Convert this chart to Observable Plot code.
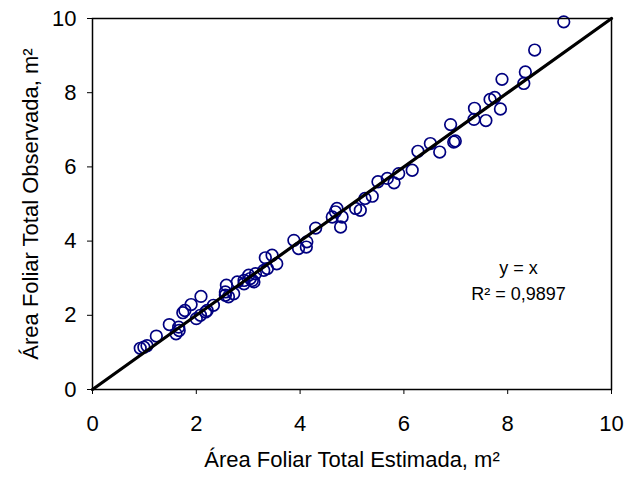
<!DOCTYPE html>
<html>
<head>
<meta charset="utf-8">
<script src="https://cdn.jsdelivr.net/npm/d3@7"></script>
<script src="https://cdn.jsdelivr.net/npm/@observablehq/plot@0.6"></script>
<style>
  html, body { margin: 0; padding: 0; background: #fff; }
</style>
</head>
<body>
<div id="chart"></div>
<script>
// Estimated leaf area (x) and observed leaf area (y), m²
const estimada = [0.92,0.99,1.05,1.23,1.48,1.61,1.67,1.66,1.74,1.78,1.90,2.09,2.00,2.08,2.18,2.21,2.33,2.56,2.58,2.56,2.72,2.62,2.79,2.92,2.92,3.01,3.04,3.08,3.11,3.14,3.30,3.37,3.33,3.46,3.55,3.88,3.97,4.13,4.12,4.30,4.62,4.68,4.71,4.81,4.78,5.07,5.16,5.25,5.39,5.50,5.68,5.81,5.90,6.16,6.27,6.51,6.69,6.96,6.99,6.90,7.35,7.36,7.58,7.66,7.75,7.86,7.89,8.31,8.34,8.52,9.08];
const observada = [1.11,1.14,1.18,1.44,1.75,1.50,1.59,1.68,2.07,2.13,2.29,2.51,1.91,2.00,2.09,2.13,2.27,2.54,2.81,2.63,2.58,2.50,2.90,2.85,2.94,3.08,2.99,2.94,2.90,3.12,3.21,3.26,3.55,3.62,3.39,4.02,3.80,3.98,3.84,4.35,4.65,4.79,4.88,4.65,4.38,4.88,4.83,5.15,5.21,5.60,5.69,5.57,5.82,5.91,6.42,6.63,6.40,6.67,6.70,7.14,7.28,7.58,7.25,7.82,7.87,7.56,8.36,8.25,8.56,9.15,9.91];
const ticks = [0, 2, 4, 6, 8, 10];
const lineX = [0, 10]; // y = x
const xLabel = "Área Foliar Total Estimada, m²";
const yLabel = "Área Foliar Total Observada, m²";
const annot = ["y = x", "R² = 0,9897"];

const points = estimada.map((x, i) => ({x, y: observada[i]}));
const fit = lineX.map(x => ({x, y: x}));

const chart = Plot.plot({
  width: 626,
  height: 477,
  marginLeft: 92,
  marginRight: 15,
  marginTop: 18,
  marginBottom: 88,
  style: {fontFamily: "'Liberation Sans', Arial, sans-serif", fontSize: "22px", color: "#000", background: "#fff"},
  x: {domain: [0, 10]},
  y: {domain: [0, 10]},
  marks: [
    Plot.axisX({ticks, tickSize: 5, tickPadding: 21, label: null, stroke: "#000", fill: "#000"}),
    Plot.axisY({ticks, tickSize: 5, tickPadding: 11, label: null, stroke: "#000", fill: "#000"}),
    Plot.dot(points, {x: "x", y: "y", r: 5.8, stroke: "#000080", strokeWidth: 1.7, fill: "none"}),
    Plot.line(fit, {x: "x", y: "y", stroke: "#000", strokeWidth: 3.2}),
    Plot.frame({stroke: "#000", strokeWidth: 1.5}),
    Plot.text([annot[0]], {x: 8.21, y: 3.27, text: d => d, fontSize: 18, fill: "#000"}),
    Plot.text([annot[1]], {x: 8.21, y: 2.57, text: d => d, fontSize: 18, fill: "#000"}),
    Plot.text([xLabel], {frameAnchor: "bottom", dy: 77, text: d => d, fontSize: 22, fill: "#000"}),
    Plot.text([yLabel], {frameAnchor: "left", dx: -62, rotate: -90, textAnchor: "middle", text: d => d, fontSize: 22, fill: "#000"})
  ]
});
document.getElementById("chart").appendChild(chart);
</script>
</body>
</html>
